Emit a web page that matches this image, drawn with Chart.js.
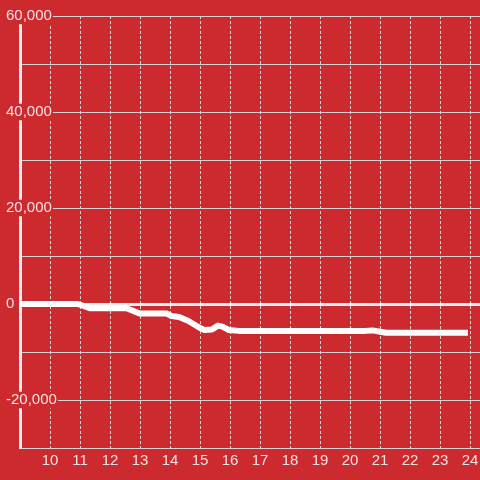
<!DOCTYPE html>
<html>
<head>
<meta charset="utf-8">
<script src="https://cdn.jsdelivr.net/npm/chart.js@4/dist/chart.umd.min.js"></script>
<style>
  html, body { margin: 0; padding: 0; background: rgb(204,42,46); }
  canvas { display: block; }
</style>
</head>
<body>
<canvas id="c" width="480" height="480"></canvas>
<script>
// Data
const hours   = [9, 10.93, 11.35, 12.55, 13.0, 13.9, 14.05, 14.3, 14.6, 15.0, 15.15, 15.4, 15.6, 15.75, 15.95, 16.3, 20.5, 20.75, 21.2, 23.83];
const balance = [0, 0, -900, -900, -2000, -2000, -2500, -2700, -3500, -5000, -5400, -5300, -4500, -4700, -5400, -5600, -5600, -5500, -6000, -6000];
const xTicks = [10, 11, 12, 13, 14, 15, 16, 17, 18, 19, 20, 21, 22, 23, 24];
const yTicks = [-30000, -20000, -10000, 0, 10000, 20000, 30000, 40000, 50000, 60000];
const yLabelStep = 20000;

const RED = 'rgb(204,42,46)';
const GRID = '#d4d4d4';
const LABEL = 'rgba(255,255,255,0.86)';

Chart.defaults.font.family = "'Liberation Sans', Arial, sans-serif";
Chart.defaults.font.size = 15;

new Chart(document.getElementById('c'), {
  type: 'line',
  data: {
    datasets: [{
      data: hours.map((h, i) => ({ x: h, y: balance[i] })),
      borderColor: '#ffffff',
      borderWidth: 6,
      borderCapStyle: 'square',
      borderJoinStyle: 'round',
      pointRadius: 0,
      tension: 0,
      fill: false
    }]
  },
  options: {
    responsive: false,
    animation: false,
    layout: { padding: { top: 16, left: 0, right: 0, bottom: 0 } },
    plugins: { legend: { display: false }, tooltip: { enabled: false } },
    scales: {
      x: {
        type: 'linear',
        min: 9,
        max: 24 + 1/3,
        afterBuildTicks: s => { s.ticks = xTicks.map(v => ({ value: v })); },
        afterFit: s => { s.height = 32; },
        grid: { color: GRID, lineWidth: 1, drawTicks: true, tickLength: 3, tickColor: 'transparent' },
        border: { display: true, color: GRID, width: 1, dash: [3, 2] },
        ticks: { color: LABEL, padding: 1, maxRotation: 0, autoSkip: false,
                 font: { size: 15, lineHeight: 1.2 },
                 callback: v => String(v) }
      },
      y: {
        type: 'linear',
        min: -30000,
        max: 60000,
        afterBuildTicks: s => { s.ticks = yTicks.map(v => ({ value: v })); },
        afterFit: s => { s.width = 20; },
        grid: {
          color: c => c.tick && c.tick.value === 0 ? '#eeeeee' : GRID,
          lineWidth: c => c.tick && c.tick.value === 0 ? 3 : 1,
          drawTicks: true,
          tickLength: 14,
          tickColor: c => (c.tick && c.tick.value % yLabelStep === 0 && c.tick.value !== 0) ? GRID : 'transparent',
          tickWidth: 1
        },
        border: { display: true, color: '#eeeeee', width: 3 },
        ticks: {
          mirror: true,
          padding: -14,
          color: LABEL,
          font: { size: 15, lineHeight: 1.1 },
          showLabelBackdrop: true,
          backdropColor: RED,
          backdropPadding: { x: 1, y: 0 },
          autoSkip: false,
          callback: v => (v % yLabelStep === 0) ? v.toLocaleString('en-US') : ''
        }
      }
    }
  }
});
</script>
</body>
</html>
